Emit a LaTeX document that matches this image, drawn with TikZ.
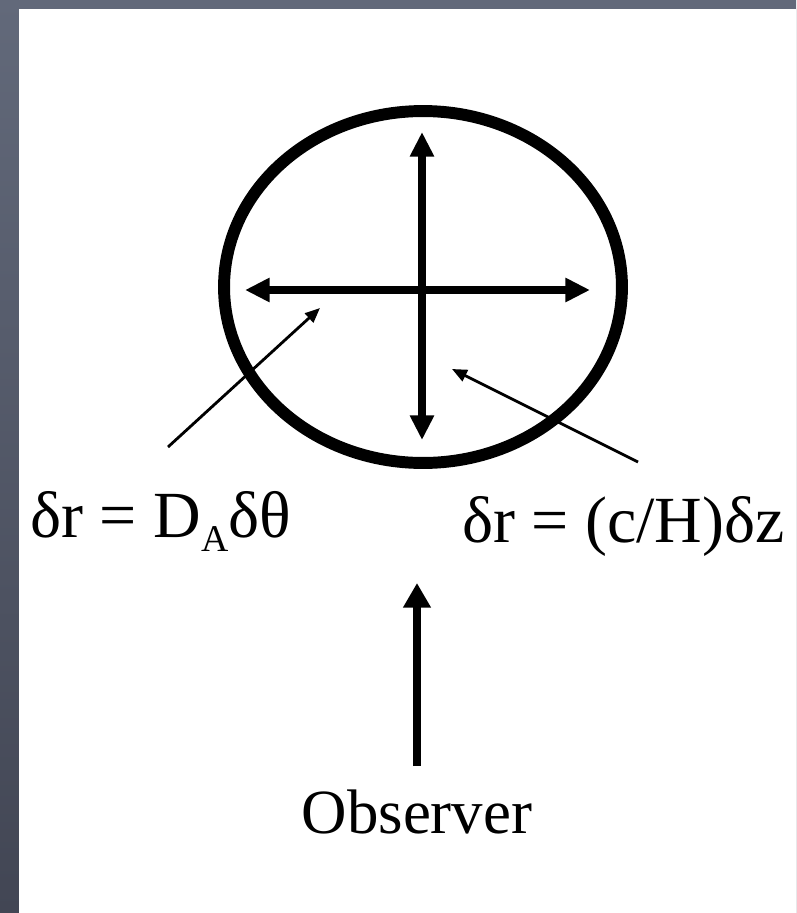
\documentclass[tikz,border=0pt]{standalone}
\usepackage{fontspec}
\setmainfont{Liberation Serif}
\usepackage{tikz}
\usetikzlibrary{arrows.meta, shapes.geometric}

\definecolor{slatetop}{RGB}{98,105,122}
\definecolor{slatebot}{RGB}{66,70,84}

\begin{document}
\begin{tikzpicture}[
  x=0.02cm, y=-0.02cm,
  rim/.style={draw, ellipse, line width=6.8pt, inner sep=0pt, minimum width=7.96cm, minimum height=7.04cm},
  bigarrow/.style={line width=4.6pt, {Triangle[length=14pt, width=13pt]}-{Triangle[length=14pt, width=13pt]}},
  pointer/.style={-{Triangle[length=8.5pt, width=7pt]}, line width=1.6pt},
  eqn/.style={inner sep=0pt, font=\fontsize{37.5pt}{45pt}\selectfont}
]
\useasboundingbox (0,0) rectangle (796,913);
\shade[top color=slatetop, bottom color=slatebot] (0,0) rectangle (796,913);
\fill[white] (19,9) rectangle (796,913);

% the volume and its two extents
\node[rim] (shell) at (423,287) {};
\coordinate (tl) at (245,290);
\coordinate (tr) at (590,290);
\coordinate (lt) at (422,132);
\coordinate (lb) at (422,440);
\draw[bigarrow] (tl) -- (tr);
\draw[bigarrow] (lt) -- (lb);

% labels
\node[eqn, anchor=base west] (dtheta) at (30,537) {δr = D\raisebox{-8.5pt}{\fontsize{21.5pt}{22pt}\selectfont A}δθ};
\node[eqn, anchor=base west] (dz) at (462,542) {δr = (c/H)δz};
\node[eqn, anchor=base, font=\fontsize{35.8pt}{43pt}\selectfont] (obs) at (417,833) {Observer};

\coordinate (ltail) at (168,447);
\coordinate (ltip)  at (320,308);
\coordinate (rtail) at (638,462);
\coordinate (rtip)  at (452,369);
\coordinate (eye)   at (417,583);
\draw[pointer] (ltail) -- (ltip);
\draw[pointer] (rtail) -- (rtip);
\draw[line width=5pt, -{Triangle[length=14pt, width=15pt]}, shorten <=13pt] (obs.north) -- (eye);
\end{tikzpicture}
\end{document}
